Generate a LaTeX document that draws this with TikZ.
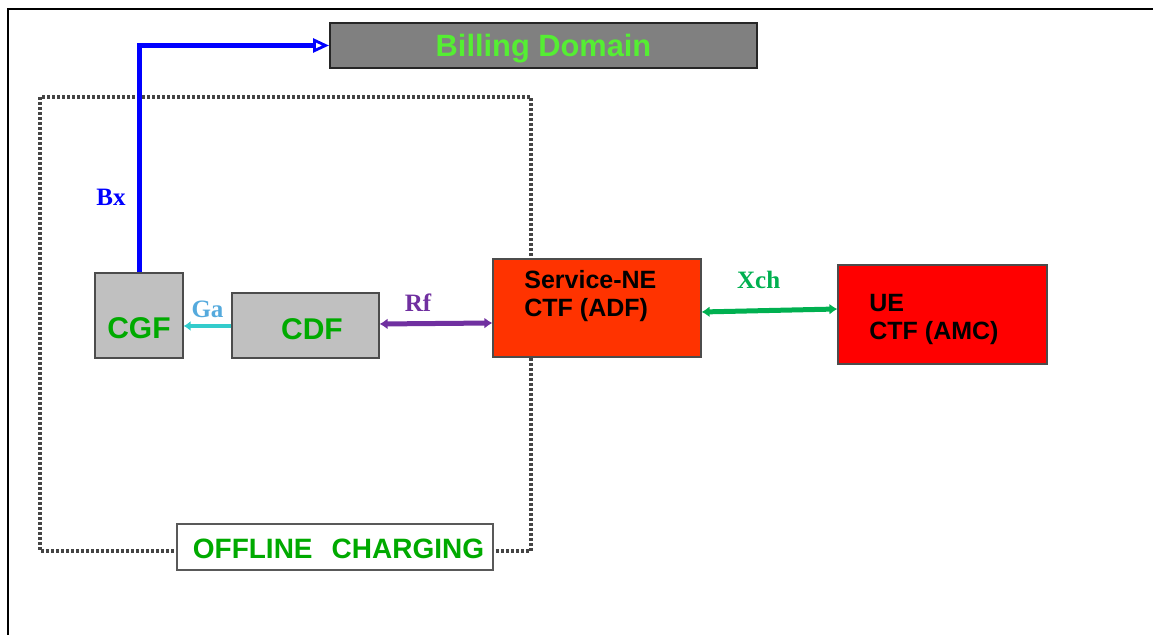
\documentclass[tikz,border=0pt]{standalone}
\usepackage{fontspec}
\setmainfont{Liberation Sans}
\newfontfamily\tnr{Liberation Serif}
\usetikzlibrary{arrows.meta,positioning}
\definecolor{billgray}{RGB}{128,128,128}
\definecolor{billgreen}{RGB}{85,238,51}
\definecolor{boxgreen}{RGB}{0,170,0}
\definecolor{boxgray}{RGB}{192,192,192}
\definecolor{nered}{RGB}{255,51,0}
\definecolor{uered}{RGB}{255,0,0}
\definecolor{dotgray}{RGB}{68,68,68}
\definecolor{gacyan}{RGB}{51,204,204}
\definecolor{galabel}{RGB}{85,170,221}
\definecolor{rfpurple}{RGB}{112,48,160}
\definecolor{xchgreen}{RGB}{0,176,80}
\begin{document}
\begin{tikzpicture}[x=0.5pt,y=-0.5pt,
  fbox/.style={draw=black!70, line width=0.6pt, fill=boxgray, inner sep=0pt},
  fname/.style={text=boxgreen, font=\fontsize{15}{18}\selectfont\bfseries, inner sep=0pt},
  ctfname/.style={font=\fontsize{12.5}{14}\selectfont\bfseries, align=left, anchor=west, inner sep=0pt},
  iflabel/.style={font=\tnr\fontsize{12.5}{14}\selectfont\bfseries, inner sep=1pt}]
\useasboundingbox (0,0) rectangle (1153,635);
% frame
\draw[line width=1.3pt] (8,635) -- (8,9) -- (1153,9);
% offline charging area
\draw[dotgray, line width=1.8pt, dash pattern=on 1.5pt off 1pt] (40,97) rectangle (531,551);
\node[draw=black!65, line width=0.8pt, fill=white, minimum width=158pt, minimum height=23pt, inner sep=0pt] (offline) at (335,547) {};
\node[text=boxgreen, font=\fontsize{14}{16}\selectfont\bfseries, inner sep=0pt, xshift=1.75pt, yshift=-1pt] at (offline) {OFFLINE\hspace{0.68em}CHARGING};
% boxes
\node[draw=black!85, line width=1pt, fill=billgray, minimum width=213.5pt, minimum height=22.5pt, inner sep=0pt, text depth=0pt, text=billgreen, font=\fontsize{15.4}{18}\selectfont\bfseries] (billing) at (543.5,45.5) {Billing Domain};
\node[fbox, minimum width=44pt, minimum height=42.5pt] (cgf) at (139,315.5) {};
\node[fname] at (139,328) {CGF};
\node[fbox, minimum width=73.5pt, minimum height=32.5pt] (cdf) at (305.5,325.5) {};
\node[fname] at (312,329) {CDF};
\node[draw=black!70, line width=0.6pt, fill=nered, minimum width=104pt, minimum height=49pt, inner sep=0pt] (sne) at (597,308) {};
\node[ctfname] at (524,296) {Service-NE\\CTF (ADF)};
\node[draw=black!70, line width=0.6pt, fill=uered, minimum width=104.5pt, minimum height=49.5pt, inner sep=0pt] (ue) at (942.5,314.5) {};
\node[ctfname] at (869,320) {UE\\CTF (AMC)};
% reference points
\draw[blue, line width=2.5pt, -{Triangle[open, length=8pt, width=7pt, line width=1.4pt]}]
  (cgf.north) |- (billing.west) node[pos=0.165, left=4.5pt, iflabel, text=blue] {Bx};
\draw[gacyan, line width=2pt, -{Latex[length=3.5pt, width=5pt]}]
  (cdf.west |- 0,326) -- (cgf.east |- 0,326) node[midway, above=2pt, iflabel, text=galabel] {Ga};
\draw[rfpurple, line width=2.5pt, >={Latex[length=4pt, width=5.5pt]}, <->]
  (cdf.east |- 0,324) -- (sne.west |- 0,323) node[pos=0.34, above=4pt, iflabel, text=rfpurple] {Rf};
\draw[xchgreen, line width=2.5pt, >={Latex[length=4pt, width=5.5pt]}, <->]
  ([yshift=-2pt]sne.east) -- ([yshift=2.75pt]ue.west) node[pos=0.42, above=9pt, iflabel, text=xchgreen] {Xch};
\end{tikzpicture}
\end{document}
